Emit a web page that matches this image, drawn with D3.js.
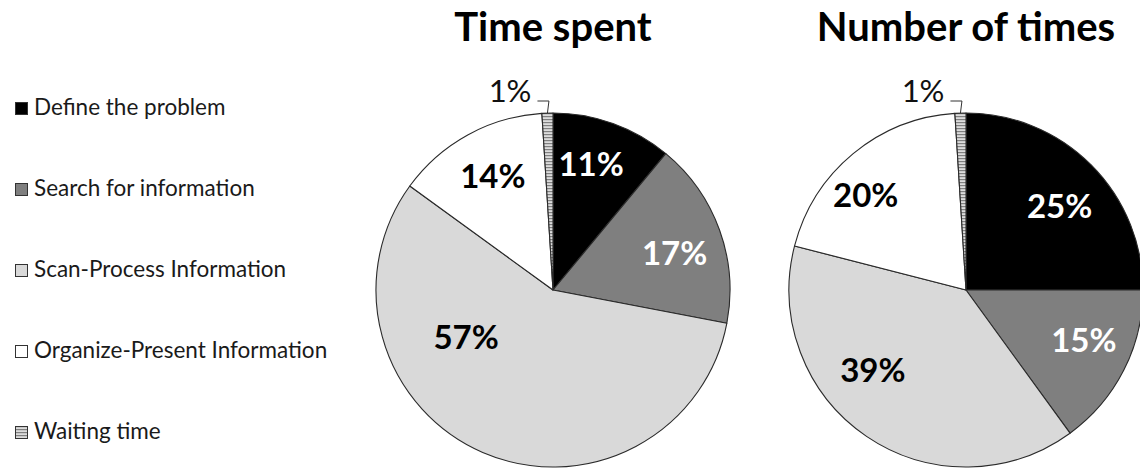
<!DOCTYPE html>
<html>
<head>
<meta charset="utf-8">
<script src="https://cdn.jsdelivr.net/npm/d3@7"></script>
<style>
  html, body { margin: 0; padding: 0; background: #fff; }
  svg { display: block; }
</style>
</head>
<body>
<svg id="chart" width="1140" height="468"></svg>
<script>
// Activity categories, in slice order (clockwise from 12 o'clock)
const categories = [
  "Define the problem",
  "Search for information",
  "Scan-Process Information",
  "Organize-Present Information",
  "Waiting time"
];

// Share of each activity, in percent
const timeSpent = [11, 17, 57, 14, 1];
const numberOfTimes = [25, 15, 39, 20, 1];

const chartTitles = ["Time spent", "Number of times"];

const svg = d3.select("#chart");

// Fills: solid greys, plus a striped pattern for the waiting slice
const defs = svg.append("defs");
const pat = defs.append("pattern")
  .attr("id", "stripes")
  .attr("patternUnits", "userSpaceOnUse")
  .attr("width", 4).attr("height", 3);
pat.append("rect").attr("width", 4).attr("height", 3).attr("fill", "#dcdcdc");
pat.append("rect").attr("width", 4).attr("height", 1.2).attr("fill", "#808080");

const color = d3.scaleOrdinal()
  .domain(categories)
  .range(["#000000", "#7f7f7f", "#d9d9d9", "#ffffff", "url(#stripes)"]);
const labelColor = d3.scaleOrdinal()
  .domain(categories)
  .range(["#ffffff", "#ffffff", "#000000", "#000000", "#000000"]);

const FONT = "Lato, 'Open Sans', sans-serif";

// Legend
const legendY = d3.scalePoint().domain(categories).range([115, 439]);
const legend = svg.append("g").attr("class", "legend");
categories.forEach(c => {
  const y = legendY(c);
  legend.append("rect")
    .attr("x", 15.5).attr("y", y - 12.5)
    .attr("width", 12).attr("height", 12)
    .attr("fill", color(c))
    .attr("stroke", "#333").attr("stroke-width", 1);
  legend.append("text")
    .attr("x", 34).attr("y", y)
    .attr("font-family", FONT)
    .attr("font-size", 22.5)
    .attr("fill", "#1a1a1a")
    .text(c);
});

// Pies
const radius = 177;
const pie = d3.pie().sort(null).value(d => d.value);
const arc = d3.arc().innerRadius(0).outerRadius(radius);

const pies = [
  { title: chartTitles[0], values: timeSpent, cx: 553, cy: 290,
    // label placement: [angle nudge in degrees, distance from centre]
    place: [[-3, 132], [3, 127], [38, 99], [1, 129]] },
  { title: chartTitles[1], values: numberOfTimes, cx: 966, cy: 290,
    place: [[3, 126], [-4, 128], [15, 123], [-7, 138]] }
];

pies.forEach(p => {
  const g = svg.append("g").attr("transform", `translate(${p.cx},${p.cy})`);
  const data = categories.map((c, i) => ({ cat: c, value: p.values[i] }));
  const arcs = pie(data);

  g.selectAll("path.slice")
    .data(arcs)
    .join("path")
    .attr("class", "slice")
    .attr("d", arc)
    .attr("fill", d => color(d.data.cat))
    .attr("stroke", "#2a2a2a")
    .attr("stroke-width", 1.1)
    .attr("stroke-linejoin", "round");

  // In-slice percentage labels
  arcs.forEach((a, i) => {
    if (i >= p.place.length) return;
    const mid = (a.startAngle + a.endAngle) / 2 + p.place[i][0] * Math.PI / 180;
    const r = p.place[i][1];
    g.append("text")
      .attr("x", r * Math.sin(mid))
      .attr("y", -r * Math.cos(mid))
      .attr("dy", "0.36em")
      .attr("text-anchor", "middle")
      .attr("font-family", FONT)
      .attr("font-weight", 700)
      .attr("font-size", 33)
      .attr("fill", labelColor(a.data.cat))
      .text(a.data.value + "%");
  });

  // Outside label with a leader line for the thin last slice
  const last = arcs[arcs.length - 1];
  const m = (last.startAngle + last.endAngle) / 2;
  const ax = radius * Math.sin(m), ay = -radius * Math.cos(m);
  const ly = -radius - 12;
  g.append("path")
    .attr("d", `M${ax},${ay} L${ax + 1.5},${ly} L${ax - 10},${ly}`)
    .attr("fill", "none")
    .attr("stroke", "#333")
    .attr("stroke-width", 1);
  g.append("text")
    .attr("x", ax - 16).attr("y", ly + 1)
    .attr("text-anchor", "end")
    .attr("font-family", FONT)
    .attr("font-size", 31)
    .attr("fill", "#111")
    .text(last.data.value + "%");

  // Title
  svg.append("text")
    .attr("x", p.cx).attr("y", 41)
    .attr("text-anchor", "middle")
    .attr("font-family", FONT)
    .attr("font-weight", 700)
    .attr("font-size", 40)
    .attr("fill", "#000")
    .text(p.title);
});
</script>
</body>
</html>
